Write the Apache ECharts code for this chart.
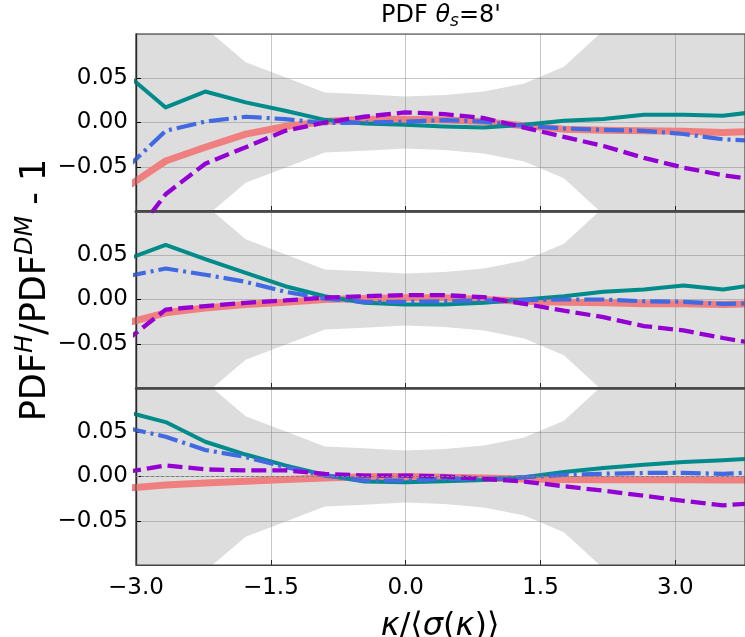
<!DOCTYPE html>
<html><head><meta charset="utf-8">
<script src="https://cdn.jsdelivr.net/npm/echarts@6/dist/echarts.min.js"></script>
<style>html,body{margin:0;padding:0;background:#fff}#c{width:745px;height:637px}</style>
</head><body><div id="c"></div>
<script>
// kappa / <sigma(kappa)> bin centres
const kappa = [-3.11, -2.67, -2.23, -1.78, -1.34, -0.90, -0.46, -0.01, 0.43, 0.87, 1.32, 1.76, 2.20, 2.65, 3.09, 3.53, 3.97];
// grey error band
const bandUpper = [0.2, 0.15, 0.107, 0.068, 0.051, 0.034, 0.032, 0.0295, 0.031, 0.035, 0.044, 0.063, 0.104, 0.15, 0.2, 0.25, 0.3];
const bandLower = [-0.2, -0.15, -0.107, -0.068, -0.051, -0.034, -0.032, -0.0295, -0.031, -0.035, -0.044, -0.063, -0.104, -0.15, -0.2, -0.25, -0.3];

// panel 1
const teal1   = [0.055, 0.017, 0.035, 0.0227, 0.0133, 0.003, -0.001, -0.0026, -0.0045, -0.0057, -0.0026, 0.002, 0.004, 0.0087, 0.0087, 0.0076, 0.013];
const blue1   = [-0.052, -0.0094, 0.001, 0.0065, 0.0038, -0.0007, 0.0, 0.001, 0.0027, 0.001, -0.0037, -0.0068, -0.0083, -0.0094, -0.013, -0.019, -0.021];
const salmon1 = [-0.0735, -0.0435, -0.028, -0.0132, -0.0045, 0.001, 0.0038, 0.0038, 0.0027, 0.001, -0.0037, -0.0075, -0.0087, -0.0094, -0.010, -0.0114, -0.0095];
const violet1 = [-0.14, -0.081, -0.0466, -0.028, -0.0094, 0.0, 0.0065, 0.0114, 0.0095, 0.005, -0.0057, -0.0163, -0.0265, -0.040, -0.051, -0.0595, -0.066];
// panel 2
const teal2   = [0.045, 0.0617, 0.0455, 0.030, 0.015, 0.0037, -0.0037, -0.0057, -0.0057, -0.0037, 0.0, 0.0037, 0.0087, 0.0113, 0.0158, 0.0113, 0.018];
const blue2   = [0.026, 0.035, 0.028, 0.020, 0.0087, 0.001, -0.0026, -0.0026, -0.002, -0.001, -0.0008, 0.0, 0.0, -0.002, -0.0026, -0.0049, -0.0042];
const salmon2 = [-0.0266, -0.015, -0.0095, -0.0057, -0.003, 0.0, 0.001, 0.0019, 0.0019, 0.0, -0.002, -0.003, -0.0037, -0.0049, -0.0049, -0.0057, -0.0045];
const violet2 = [-0.0466, -0.0114, -0.0075, -0.0038, -0.001, 0.002, 0.0038, 0.0049, 0.0049, 0.0026, -0.0049, -0.0125, -0.020, -0.030, -0.035, -0.0435, -0.051];
// panel 3
const teal3   = [0.073, 0.0615, 0.0393, 0.0248, 0.0126, 0.0018, -0.0057, -0.0065, -0.0054, -0.0039, -0.0008, 0.005, 0.0095, 0.0133, 0.0164, 0.0183, 0.021];
const blue3   = [0.055, 0.045, 0.030, 0.022, 0.0107, 0.001, -0.0046, -0.0046, -0.0027, -0.0027, -0.0008, 0.0018, 0.0031, 0.004, 0.004, 0.003, 0.005];
const salmon3 = [-0.0133, -0.0096, -0.0073, -0.0054, -0.0035, -0.0016, -0.0004, 0.0, -0.0008, -0.0016, -0.0027, -0.0035, -0.0037, -0.0037, -0.0037, -0.004, -0.004];
const violet3 = [0.005, 0.0126, 0.008, 0.0069, 0.0069, 0.003, 0.0011, 0.0011, 0.0, -0.0027, -0.0057, -0.011, -0.016, -0.0218, -0.0275, -0.0326, -0.0295];

const xTickLabels = ['−3.0', '−1.5', '0.0', '1.5', '3.0'];
const yTickLabels = ['−0.05', '0.00', '0.05'];

const FONT = 'DejaVu Sans';
const panels = [
  {teal: teal1, blue: blue1, salmon: salmon1, violet: violet1},
  {teal: teal2, blue: blue2, salmon: salmon2, violet: violet2},
  {teal: teal3, blue: blue3, salmon: salmon3, violet: violet3}
];
const tops = [34, 211, 388];
const PH = 177;
const split = {show: true, lineStyle: {color: 'rgba(128,128,128,0.45)', width: 1}};

const grid = tops.map(t => ({left: 136, right: 0, top: t, height: PH, show: true,
  backgroundColor: 'transparent', borderColor: '#444', borderWidth: 1.2, z: 3}));

const xAxis = tops.map((t, i) => ({
  type: 'value', gridIndex: i, min: -3, max: 3.775, interval: 1.5, z: 1,
  axisLine: {show: true, onZero: false, lineStyle: {color: i === 0 ? '#5a5a5a' : '#444', width: i === 0 ? 3 : (i === 1 ? 2.5 : 1.2)}},
  axisTick: {show: true, inside: true, length: 5, lineStyle: {color: '#222', width: 1}},
  axisLabel: {show: i === 2, showMaxLabel: false, fontFamily: FONT, fontSize: 23, color: '#000', margin: 12,
    formatter: v => { const k = Math.round((v + 3) / 1.5); return xTickLabels[k] !== undefined && Math.abs(v - (-3 + 1.5 * k)) < 1e-6 ? xTickLabels[k] : ''; }},
  splitLine: split
}));

const yAxis = tops.map((t, i) => ({
  type: 'value', gridIndex: i, min: -0.1, max: 0.1, interval: 0.05, z: 1,
  axisLine: {show: true, onZero: false, lineStyle: {color: '#000', width: 1.3}},
  axisTick: {show: true, inside: true, length: 5, lineStyle: {color: '#000', width: 1}},
  axisLabel: {showMinLabel: false, showMaxLabel: false, fontFamily: FONT, fontSize: 23, color: '#000', margin: 8,
    formatter: v => { const k = Math.round(v / 0.05) + 1; return (k >= 0 && k <= 2) ? yTickLabels[k] : ''; }},
  splitLine: split
}));

const pts = arr => kappa.map((x, j) => [x, arr[j]]);
const series = [];
panels.forEach((p, i) => {
  const base = {type: 'line', xAxisIndex: i, yAxisIndex: i, symbol: 'none', silent: true, animation: false};
  // band: grey fill below the upper edge, then white fill below the lower edge
  series.push(Object.assign({}, base, {data: pts(bandUpper), lineStyle: {opacity: 0},
    areaStyle: {color: '#dddddd', opacity: 1, origin: 'start'}, z: 0}));
  series.push(Object.assign({}, base, {data: pts(bandLower), lineStyle: {opacity: 0},
    areaStyle: {color: '#ffffff', opacity: 1, origin: 'start'}, z: 0}));
  series.push(Object.assign({}, base, {data: pts(p.salmon), lineStyle: {color: '#f08080', width: 7, join: 'round', cap: 'round'}, z: 2}));
  series.push(Object.assign({}, base, {data: pts(p.teal), lineStyle: {color: '#008b8b', width: 4, join: 'round'}, z: 2}));
  series.push(Object.assign({}, base, {data: pts(p.blue), lineStyle: {color: '#4169e1', width: 4.2, type: [20, 5, 3, 5]}, z: 2}));
  const vio = Object.assign({}, base, {data: pts(p.violet), lineStyle: {color: '#9400d3', width: 4.3, type: [15, 6]}, z: 2});
  if (i === 2) {
    vio.markLine = {silent: true, symbol: 'none', animation: false, label: {show: false},
      lineStyle: {color: '#808080', type: [3, 2], width: 1}, data: [{yAxis: 0}]};
  }
  series.push(vio);
});

const graphic = [
  {type: 'text', x: 441, y: 16, z: 10, style: {
    text: '{a|PDF }{i|θ}{sub|s}{a|=8\'}', textAlign: 'center', textVerticalAlign: 'middle',
    rich: {
      a: {fontFamily: FONT, fontSize: 24, fill: '#000'},
      i: {fontFamily: FONT, fontSize: 24, fontStyle: 'italic', fill: '#000'},
      sub: {fontFamily: FONT, fontSize: 17, fontStyle: 'italic', fill: '#000', padding: [12, 0, 0, 0]}
    }}},
  {type: 'text', x: 36, y: 290, rotation: Math.PI / 2, z: 10, style: {
    text: '{a|PDF}{sup|H}{a|/PDF}{sup|DM}{a| - 1}', textAlign: 'center', textVerticalAlign: 'middle',
    rich: {
      a: {fontFamily: FONT, fontSize: 35, fill: '#000'},
      sup: {fontFamily: FONT, fontSize: 24, fontStyle: 'italic', fill: '#000', padding: [0, 0, 20, 0]}
    }}},
  {type: 'text', x: 440, y: 627, z: 10, style: {
    text: '{i|κ}{a|/⟨}{i|σ}{a|(}{i|κ}{a|)⟩}', textAlign: 'center', textVerticalAlign: 'middle',
    rich: {
      a: {fontFamily: FONT, fontSize: 32, fill: '#000'},
      i: {fontFamily: FONT, fontSize: 32, fontStyle: 'italic', fill: '#000'}
    }}}
];

const chart = echarts.init(document.getElementById('c'), null, {renderer: 'canvas'});
chart.setOption({animation: false, backgroundColor: '#fff', grid, xAxis, yAxis, series, graphic});
</script></body></html>
